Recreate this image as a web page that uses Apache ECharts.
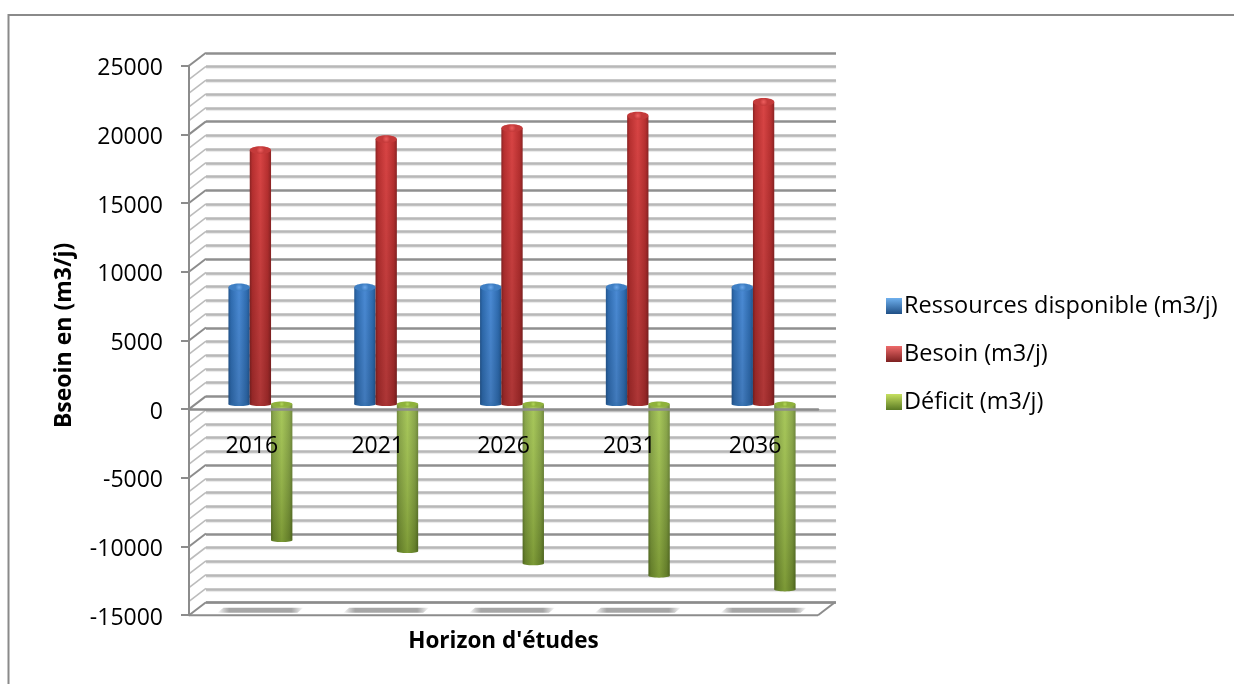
<!DOCTYPE html>
<html><head><meta charset="utf-8">
<style>html,body{margin:0;padding:0;background:#fff}#c{width:1234px;height:684px}</style>
<script src="https://cdn.jsdelivr.net/npm/echarts@6/dist/echarts.min.js"></script>
</head><body><div id="c"></div>
<script>
const categories = ['2016','2021','2026','2031','2036'];
const ressources = [8500,8500,8500,8500,8500];
const besoin = [18500,19300,20100,21000,22000];
const deficit = [-9900,-10700,-11600,-12500,-13500];
const yTicks = [];
for (let v = -15000; v <= 25000; v += 1000) yTicks.push(v);
const yMin = -15000, yMax = 25000, yInterval = 5000;
const names = ['Ressources disponible (m3/j)','Besoin (m3/j)','Déficit (m3/j)'];
const FONT = '"Open Sans", Carlito, sans-serif';

const hGrad = (edge, mid) => ({type:'linear',x:0,y:0,x2:1,y2:0,colorStops:[
  {offset:0,color:edge},{offset:.12,color:mid[0]},{offset:.5,color:mid[1]},{offset:.85,color:mid[0]},{offset:1,color:edge}]});
const vGrad = (a, b) => ({type:'linear',x:0,y:0,x2:0,y2:1,colorStops:[{offset:0,color:a},{offset:1,color:b}]});
const radial = (a, b) => ({type:'radial',x:.5,y:.5,r:.5,colorStops:[{offset:0,color:a},{offset:1,color:b}]});
const bodies = [hGrad('#23568f',['#2f6cb0','#4a8ad4']), hGrad('#8c2424',['#b83030','#d84444']), hGrad('#5e7a24',['#7c9c34','#9cc044'])];
const shades = [vGrad('rgba(0,0,0,0)','rgba(0,0,0,.12)'), vGrad('rgba(0,0,0,0)','rgba(0,0,0,.2)'), vGrad('rgba(255,255,255,.12)','rgba(0,0,0,.2)')];
const caps = [radial('#6aa6ea','#3f7fc4'), radial('#ee5e5e','#c43a3a'), radial('#b4d85a','#8fb23c')];
const ends = [hGrad('#22528a',['#2a639f','#3c76b5']), hGrad('#7e2020',['#962a2a','#aa3434']), hGrad('#56701f',['#64802a','#7c9a36'])];
const legendCols = [vGrad('#6fb0ee','#1f4f86'), vGrad('#ee6a6a','#7d2020'), vGrad('#c6e060','#5a7a24')];
const seriesValues = [ressources, besoin, deficit];
const BW = 21.3;

const series = [];
series.push({type:'custom',xAxisIndex:2,yAxisIndex:2,z:1,silent:true,data:yTicks.map(v=>[0,v]),
  encode:{x:0,y:1},
  renderItem(p,api){
    const v=api.value(1), y=api.coord([categories[0],v])[1], x=p.coordSys.x;
    const major=v%yInterval===0;
    const lines=[{type:'line',shape:{x1:x,y1:y,x2:x+17,y2:y-13},style:{stroke:major?'#8c8c8c':'#bcbcbc',lineWidth:major?2:1.6}}];
    if(v===yMin){
      const r=x+p.coordSys.width;
      lines.push({type:'line',shape:{x1:r,y1:y,x2:r+17,y2:y-13},style:{stroke:'#8c8c8c',lineWidth:2}});
    }
    return {type:'group',children:lines};
  }});
series.push({type:'custom',xAxisIndex:1,yAxisIndex:1,z:1,silent:true,data:categories.map(c=>[c,yMin]),
  encode:{x:0,y:1},
  renderItem(p,api){
    const c=api.coord([api.value(0),api.value(1)]);
    return {type:'polygon',shape:{points:[[c[0]-43,c[1]+2.5],[c[0]-37,c[1]-2.5],[c[0]+43,c[1]-2.5],[c[0]+37,c[1]+2.5]]},
      style:{fill:{type:'linear',x:0,y:0,x2:1,y2:0,colorStops:[{offset:0,color:'rgba(150,150,150,0)'},{offset:.14,color:'#a6a6a6'},{offset:.86,color:'#a6a6a6'},{offset:1,color:'rgba(150,150,150,0)'}]}}};
  }});
seriesValues.forEach((vals,i)=>{
  series.push({type:'bar',name:names[i],xAxisIndex:1,yAxisIndex:1,data:vals,barWidth:BW,barGap:0,z:3,silent:true,
    itemStyle:{color:bodies[i]}});
  series.push({type:'bar',name:names[i]+' ombre',xAxisIndex:3,yAxisIndex:3,data:vals,barWidth:BW,barGap:0,z:4,silent:true,
    itemStyle:{color:shades[i]}});
});
seriesValues.forEach((vals,i)=>{
  series.push({type:'custom',xAxisIndex:1,yAxisIndex:1,z:5,silent:true,data:vals.map((v,k)=>[categories[k],v]),
    encode:{x:0,y:1},
    renderItem(p,api){
      const pt=api.coord([api.value(0),api.value(1)]), zero=api.coord([api.value(0),0]);
      const cx=pt[0]+(i-1)*BW;
      const neg=api.value(1)<0, rx=BW/2;
      const top={type:'ellipse',shape:{cx,cy:neg?zero[1]:pt[1],rx,ry:neg?2.6:3.8},style:{fill:caps[i]}};
      const bottom={type:'ellipse',shape:{cx,cy:neg?pt[1]:zero[1],rx,ry:1.8},style:{fill:ends[i]}};
      return {type:'group',children:[bottom,top]};
    }});
});
series.push({type:'custom',xAxisIndex:0,yAxisIndex:0,z:2,silent:true,data:[[0,yMin]],encode:{y:1},
  renderItem(p,api){
    const y=api.coord([categories[0],api.value(1)])[1];
    return {type:'line',shape:{x1:p.coordSys.x,y1:y,x2:p.coordSys.x+p.coordSys.width,y2:y},style:{stroke:'#8c8c8c',lineWidth:2}};
  }});
series.push({type:'custom',xAxisIndex:2,yAxisIndex:2,z:2,silent:true,data:[[0,yMin]],encode:{y:1},
  renderItem(p,api){
    const y=api.coord([categories[0],api.value(1)])[1];
    return {type:'line',shape:{x1:p.coordSys.x,y1:y,x2:p.coordSys.x+p.coordSys.width,y2:y},style:{stroke:'#8c8c8c',lineWidth:2}};
  }});

const option = {
  animation:false,
  backgroundColor:'#fff',
  textStyle:{fontFamily:FONT},
  legend:{orient:'vertical',left:881,top:289,itemWidth:16,itemHeight:16,itemGap:24,selectedMode:false,
    textStyle:{fontFamily:FONT,fontSize:23.5,color:'#000',padding:[0,0,0,-3]},
    data:names.map((n,i)=>({name:n,icon:'rect',itemStyle:{color:legendCols[i]}}))},
  grid:[
    {left:206,top:53,width:630,height:549.5,outerBoundsMode:'none'},
    {left:197.5,top:60.7,width:629,height:549.5,outerBoundsMode:'none'},
    {left:189,top:65.7,width:629,height:549.5,outerBoundsMode:'none'},
    {left:197.5,top:60.7,width:629,height:549.5,outerBoundsMode:'none'}
  ],
  xAxis:[
    {gridIndex:0,type:'category',data:categories,show:false},
    {gridIndex:1,type:'category',data:categories,show:false},
    {gridIndex:2,type:'category',data:categories,z:10,
      axisLine:{onZero:true,lineStyle:{color:'#8c8c8c',width:2.5}},axisTick:{show:false},
      axisLabel:{color:'#000',fontSize:23,fontFamily:FONT,margin:-180},
      name:"Horizon d'études",nameLocation:'middle',nameGap:15,
      nameTextStyle:{fontFamily:FONT,fontSize:22.5,fontWeight:'bold',color:'#000'}},
    {gridIndex:3,type:'category',data:categories,show:false}
  ],
  yAxis:[
    {gridIndex:0,type:'value',min:yMin,max:yMax,interval:yInterval,
      axisLine:{show:false},axisTick:{show:false},axisLabel:{show:false},
      splitLine:{show:true,lineStyle:{color:'#8f8f8f',width:2.5}},
      minorTick:{show:false,splitNumber:5},
      minorSplitLine:{show:true,lineStyle:{color:'#b8b8b8',width:2.5,shadowColor:'rgba(0,0,0,.12)',shadowBlur:1,shadowOffsetY:1}}},
    {gridIndex:1,type:'value',min:yMin,max:yMax,interval:yInterval,
      axisLine:{show:false},axisTick:{show:false},axisLabel:{show:false},splitLine:{show:false},
      name:'Bseoin en (m3/j)',nameLocation:'middle',nameGap:122,
      nameTextStyle:{fontFamily:FONT,fontSize:23,fontWeight:'bold',color:'#000'}},
    {gridIndex:2,type:'value',min:yMin,max:yMax,interval:yInterval,z:10,
      axisLine:{show:true,onZero:false,lineStyle:{color:'#8c8c8c',width:2}},
      axisTick:{show:true,length:8,lineStyle:{color:'#8c8c8c',width:2}},
      axisLabel:{color:'#000',fontSize:23,fontFamily:FONT,margin:26,verticalAlign:'top',lineHeight:6,formatter:v=>String(v)},
      splitLine:{show:false}},
    {gridIndex:3,type:'value',min:yMin,max:yMax,interval:yInterval,show:false,splitLine:{show:false}}
  ],
  graphic:[
    {type:'polyline',z:0,shape:{points:[[8.5,684],[8.5,15],[1234,15]]},style:{stroke:'#8a8a8a',fill:null,lineWidth:2}}
  ],
  series
};
echarts.init(document.getElementById('c'),null,{renderer:'canvas'}).setOption(option);
</script></body></html>
